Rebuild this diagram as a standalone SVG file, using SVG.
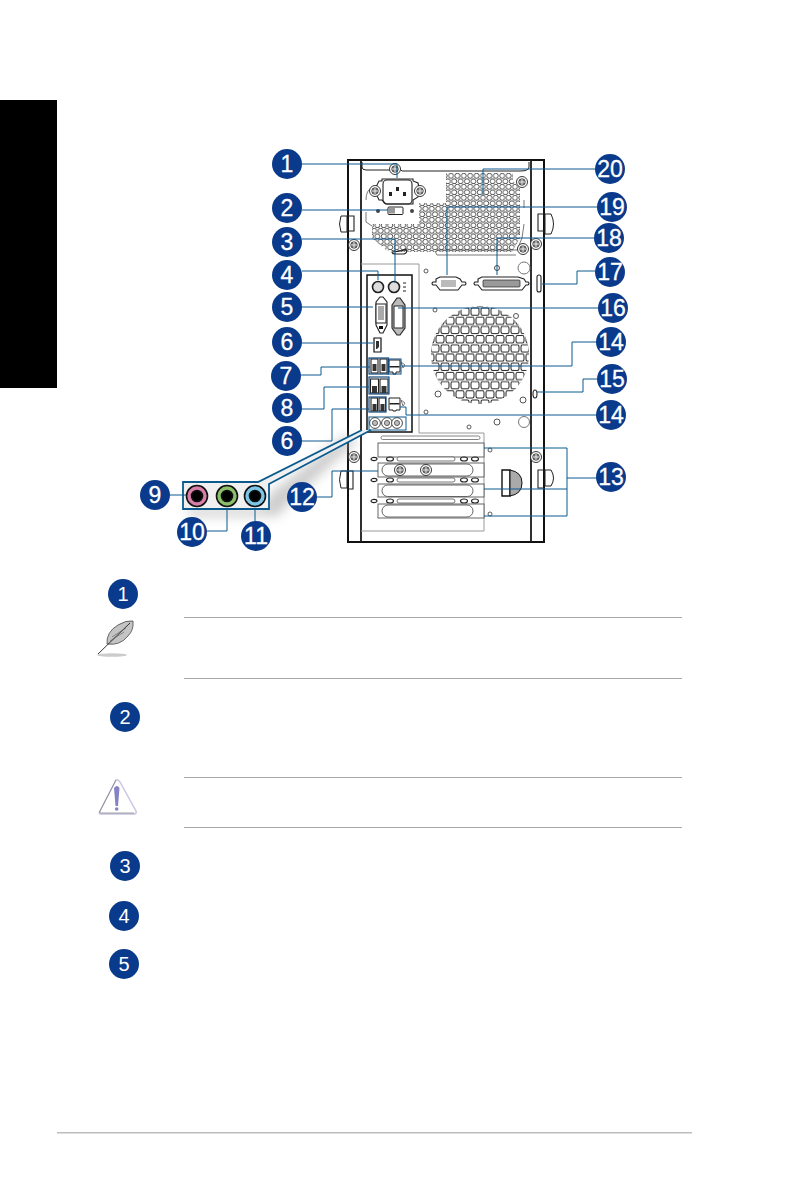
<svg xmlns="http://www.w3.org/2000/svg" width="794" height="1196" viewBox="0 0 794 1196">
<style>
.bg{fill:#0a3a8c}
.n{fill:#fff;stroke:#fff;stroke-width:.3;font-family:"Liberation Sans",Arial,sans-serif;font-size:23px;text-anchor:middle}
.m{fill:#fff;font-family:"Liberation Sans",Arial,sans-serif;font-size:20px;text-anchor:middle}
.c{fill:none;stroke:#0b5a8e;stroke-width:1}
.k{fill:none;stroke:#1a1a1a;stroke-width:1.8}
.g{fill:none;stroke:#6a6a6a;stroke-width:.9}
.p{fill:#fff;stroke:#222;stroke-width:1}
.t{fill:none;stroke:#222;stroke-width:1.1}
.r{stroke:#a8a8a8;stroke-width:1}
</style>
<defs>
<pattern id="vent" width="6.4" height="11" patternUnits="userSpaceOnUse" patternTransform="translate(371 173)">
<circle cx="3.2" cy="2.8" r="2.5" fill="#fff" stroke="#333" stroke-width=".85"/>
<circle cx="0" cy="8.3" r="2.5" fill="#fff" stroke="#333" stroke-width=".85"/>
<circle cx="6.4" cy="8.3" r="2.5" fill="#fff" stroke="#333" stroke-width=".85"/>
</pattern>
<pattern id="fan" width="20" height="18.4" patternUnits="userSpaceOnUse" patternTransform="translate(430 307)">
<rect x="1" y="1" width="8" height="7.200" rx="1.600" fill="#fff" stroke="#222" stroke-width="1"/>
<rect x="11" y="1" width="8" height="7.200" rx="1.600" fill="#fff" stroke="#222" stroke-width="1"/>
<rect x="-4" y="10.200" width="8" height="7.200" rx="1.600" fill="#fff" stroke="#222" stroke-width="1"/>
<rect x="6" y="10.200" width="8" height="7.200" rx="1.600" fill="#fff" stroke="#222" stroke-width="1"/>
<rect x="16" y="10.200" width="8" height="7.200" rx="1.600" fill="#fff" stroke="#222" stroke-width="1"/>
</pattern>
<clipPath id="ventclip"><path d="M446 173H513V181L520 188V238L512 252H398L386 250L372 238V224H419V203H446Z"/></clipPath>
<clipPath id="fanclip"><circle cx="480" cy="355" r="49"/></clipPath>
<filter id="blur" x="-30%" y="-30%" width="160%" height="160%"><feGaussianBlur stdDeviation="6"/></filter>
<g id="screw"><circle r="5.500" fill="#fff" stroke="#222" stroke-width=".9"/><circle r="3.300" fill="#777" stroke="#222" stroke-width=".6"/><path d="M-3 0H3M0-3V3" stroke="#fff" stroke-width=".8"/></g>
<g id="sm"><circle r="2" fill="#fff" stroke="#333" stroke-width=".8"/></g>
<g id="holes"><ellipse cx="374" cy="0" rx="3" ry="1.600" class="t"/><ellipse cx="390" cy="0" rx="3.500" ry="2" class="t"/><rect x="397" y="-2" width="58" height="4" rx="2" fill="#fff" stroke="#555" stroke-width=".8"/><ellipse cx="464" cy="0" rx="3.500" ry="2" class="t"/><ellipse cx="475" cy="0" rx="3.500" ry="2" class="t"/></g>
<g id="jack"><circle r="5.400" fill="#fff" stroke="#333" stroke-width=".9"/><circle r="2.600" fill="#bbb" stroke="#333" stroke-width=".7"/></g>
</defs>

<rect width="794" height="1196" fill="#fff"/>
<rect x="0" y="100" width="57" height="288" fill="#000"/>
<rect x="57" y="1132" width="635" height="1.500" fill="#bdbdbd"/>

<g id="chassis">
<path d="M348 160H544V542H348Z" fill="#fff" stroke="#111" stroke-width="2"/>
<path class="k" d="M361 160V542M531 160V542"/>
<path fill="none" stroke="#222" stroke-width="1" d="M362 162V167Q362 170 366 170H390L394 167H398L402 171H520Q529 171 529 167V162"/>
<path fill="#fff" d="M341 216H347V232H341Q338 224 341 216ZM551 214H545V234H551Q556 224 551 214ZM341 471H347V488H341Q338 480 341 471ZM551 470H545V486H551Q556 478 551 470Z" stroke="#222" stroke-width="1"/>
<path class="t" d="M347 216H354V231H347M544 214H538V231H544M347 471H353V489H347M544 470H538V488H544"/>
<path class="g" d="M372 188Q366 190 366 200M366 212V222L372 226M524 200V208M524 224L522 238L517 250H438L435 245M519 230V236"/>
<use href="#screw" x="354" y="245"/><use href="#screw" x="536" y="244"/><use href="#screw" x="354" y="457"/><use href="#screw" x="536" y="457"/>
<use href="#screw" x="522" y="182"/><use href="#screw" x="523" y="249"/>
</g>

<g id="vents"><rect x="366" y="170" width="158" height="85" fill="url(#vent)" clip-path="url(#ventclip)"/></g>
<path class="g" d="M435 251L437 255H516"/>
<path class="t" d="M392 252Q404 251 406 249Q408 253 404 254H396Q392 254 392 252Z"/>

<g id="psu">
<path class="t" d="M379 181H382V179H413V181L418 183Q420 190 418 197L413 200V204H386L382 200H379Q373 190 379 181Z" fill="#fff"/>
<rect x="383" y="180" width="29" height="24" rx="4" class="t"/>
<rect x="396" y="187" width="3" height="4" fill="#222"/><rect x="389" y="192" width="3" height="4" fill="#222"/><rect x="403" y="192" width="3" height="4" fill="#222"/>
<use href="#screw" x="375" y="191"/><use href="#screw" x="420" y="191"/><use href="#screw" x="395" y="169"/>
<rect x="388" y="207" width="15" height="7.500" rx="1" fill="#fff" stroke="#222"/><rect x="389" y="208" width="6" height="5.500" fill="#999"/>
<circle cx="378" cy="211" r="2" fill="#444"/><circle cx="412" cy="211" r="2" fill="#444"/>
</g>

<g id="back-plate">
<path d="M361 264H419V433H484V531H361" fill="none" stroke="#9a9a9a" stroke-width="1"/>
<rect x="367" y="275" width="45" height="157" fill="#fff" stroke="#111" stroke-width="1.500"/>
<use href="#sm" x="426" y="271"/><use href="#sm" x="435" y="310"/><use href="#sm" x="426" y="412"/><use href="#sm" x="469" y="427"/>
<circle cx="497" cy="268" r="2.500" fill="#fff" stroke="#444"/><circle cx="524" cy="268" r="6" fill="#fff" stroke="#777"/>
<circle cx="438" cy="394" r="3" fill="#fff" stroke="#555"/><circle cx="523" cy="400" r="3" fill="#fff" stroke="#555"/><circle cx="497" cy="422" r="3" fill="#fff" stroke="#555"/><circle cx="524" cy="422" r="5.500" fill="#fff" stroke="#777"/><circle cx="516" cy="316" r="2.500" fill="#fff" stroke="#555"/>
<rect x="537" y="275" width="4" height="17" rx="2" class="t"/>
<ellipse cx="535" cy="394" rx="2" ry="4" class="t"/>
</g>

<g id="fan-grille"><rect x="430" y="305" width="100" height="100" fill="url(#fan)" clip-path="url(#fanclip)"/></g>

<g id="ports">
<circle cx="378" cy="287" r="5.500" fill="#ddd" stroke="#222" stroke-width="1.600"/><circle cx="394" cy="287" r="5.500" fill="#ddd" stroke="#222" stroke-width="1.600"/>
<path class="t" d="M403 283H406M403 287H406M403 291H406"/>
<path d="M376 302L380 297H383L387 302V325L383 333H380L376 325Z" class="t"/><rect x="376" y="304" width="10" height="19" fill="#fff" stroke="#222"/><rect x="378" y="306" width="6" height="14" fill="#aaa"/><rect x="379" y="326" width="4" height="3" fill="#111"/>
<path d="M392 305L397 298H400L405 305V328L400 335H397L392 328Z" fill="#bbb" stroke="#222" stroke-width="1.100"/><rect x="394" y="306" width="9" height="22" fill="#fff" stroke="#222"/>
<path d="M374 338H381V352H374Z" fill="#fff" stroke="#111" stroke-width="1.200"/><path d="M376 341H379V347L377 349H376Z" fill="#333"/>
<rect x="369.500" y="358" width="19" height="16" fill="#fff"/><rect x="371" y="359" width="7" height="14" class="t"/><rect x="380" y="359" width="7" height="14" class="t"/>
<rect x="372.500" y="364" width="4" height="7" fill="#333"/><rect x="381.500" y="364" width="4" height="7" fill="#333"/>
<rect x="370.500" y="379" width="8" height="14" class="t"/><rect x="380" y="379" width="8" height="14" class="t"/>
<rect x="372" y="386" width="5" height="7" fill="#333"/><rect x="381.500" y="386" width="5" height="7" fill="#333"/>
<rect x="371" y="398" width="6.500" height="13" class="t"/><rect x="379" y="398" width="6.500" height="13" class="t"/>
<rect x="372.500" y="404" width="4" height="7" fill="#333"/><rect x="380.500" y="404" width="4" height="7" fill="#333"/>
<path d="M389 360H400V372H396V374H393V372H389Z" class="p" stroke-width="1.400"/><rect x="389.500" y="366" width="10" height="1.500" fill="#222"/>
<path d="M389 398H400V410H396V411H393V410H389Z" class="p" stroke-width="1.400"/><rect x="389.500" y="403" width="10" height="1.500" fill="#222"/>
<path class="g" d="M401 362L405 365L403 368ZM401 400L405 403L403 406Z"/>
<rect x="369" y="417" width="37" height="13" fill="#fff" stroke="#0b5a8e" stroke-width="1"/>
<use href="#jack" x="375" y="423"/><use href="#jack" x="387" y="423"/><use href="#jack" x="397" y="423"/>
<path class="t" d="M436 279L440 277H456L460 279L462 282H465Q467 283.500 465 285H462L458 290H440L436 285H433Q431 283.500 433 282H436Z" fill="#fff"/>
<rect x="441" y="280" width="15" height="7" fill="#bbb"/>
<path class="t" d="M478 279L482 277H518L524 279L526 282H528Q530 283.500 528 285H526L522 290H482L478 285H475Q473 283.500 475 282H478Z" fill="#fff"/>
<rect x="483" y="280" width="37" height="7" rx="1" fill="#9a9a9a" stroke="#222" stroke-width=".7"/>
</g>

<g id="slots">
<rect x="381" y="436" width="99" height="3.500" rx="1.700" fill="#fff" stroke="#777" stroke-width=".9"/>
<rect x="378" y="443" width="106" height="14" fill="#fff" stroke="#555" stroke-width=".9"/>
<use href="#holes" y="459"/>
<rect x="378" y="463" width="106" height="14" fill="#fff" stroke="#555" stroke-width=".9"/>
<rect x="382" y="464" width="91" height="12" rx="6" fill="#fff" stroke="#555" stroke-width=".9"/>
<use href="#screw" x="400" y="470"/><use href="#screw" x="426" y="470"/>
<use href="#holes" y="480"/>
<rect x="378" y="484" width="106" height="13" fill="#fff" stroke="#555" stroke-width=".9"/>
<rect x="382" y="485" width="91" height="11.500" rx="5.700" fill="#fff" stroke="#555" stroke-width=".9"/>
<use href="#holes" y="501"/>
<rect x="378" y="504" width="106" height="14" fill="#fff" stroke="#555" stroke-width=".9"/>
<rect x="382" y="505" width="91" height="12" rx="6" fill="#fff" stroke="#555" stroke-width=".9"/>
<path d="M502 470H510V496H502Z" fill="#fff" stroke="#111" stroke-width="1.400"/>
<path d="M510 470Q522 472 522 483Q522 494 510 496Z" fill="#aaa" stroke="#111" stroke-width="1"/>
<use href="#sm" x="490" y="450"/><use href="#sm" x="490" y="514"/>
</g>

<g id="audio-panel">
<path d="M272 492L345 436L358 440L288 504L278 516H190L186 508H262Z" fill="#aaa" opacity=".6" filter="url(#blur)"/>
<path d="M183 482H258L362 430H371L268 484V509H183Z" fill="#f0f0f0"/>
<path d="M362 430L258 482H183V509H269V484L371 430" fill="none" stroke="#0b5a8e" stroke-width="1.800"/>
<g stroke="#111" stroke-width="1.600">
<circle cx="197" cy="496" r="10.500" fill="#d77fa8"/><circle cx="197" cy="496" r="5.500" fill="#000"/>
<circle cx="227" cy="496" r="10.500" fill="#8cbf6a"/><circle cx="227" cy="496" r="5.500" fill="#000"/>
<circle cx="255" cy="496" r="10.500" fill="#7cc7e8"/><circle cx="255" cy="496" r="5.500" fill="#000"/>
</g>
</g>

<g id="connectors">
<path class="c" d="M302 164H397V178"/>
<path class="c" d="M302 210H388"/>
<path class="c" d="M302 239H395V283"/>
<path class="c" d="M302 271H378V280"/>
<path class="c" d="M302 307H373"/>
<path class="c" d="M302 343H373"/>
<path class="c" d="M301 375H321V367H370"/>
<path class="c" d="M301 409H324V387H369"/>
<path class="c" d="M301 441H332V409H369"/>
<path class="c" d="M317 497H332V471H378"/>
<path class="c" d="M595 169H483V195"/>
<path class="c" d="M597 207H447V275"/>
<path class="c" d="M594 238H497V275"/>
<path class="c" d="M595 271H577V284H542"/>
<path class="c" d="M598 308H398"/>
<path class="c" d="M597 342H572V366H402"/>
<path class="c" d="M597 379H583V392H537"/>
<path class="c" d="M597 415H406V407H400"/>
<path class="c" d="M597 478H567M484 448H567V516H484M484 489H567"/>
<path class="c" d="M169 495H186"/>
<path class="c" d="M207 531H227V508"/>
<path class="c" d="M255 521V508"/>
<rect x="369" y="358" width="19.500" height="16" fill="none" stroke="#0f4a80" stroke-width="1.200"/>
<rect x="369" y="377" width="20" height="17" fill="none" stroke="#0f4a80" stroke-width="1.200"/>
<rect x="369" y="397" width="17" height="15" fill="none" stroke="#0f4a80" stroke-width="1.200"/>
<rect x="388" y="359" width="13" height="15" fill="none" stroke="#0f4a80" stroke-width="1"/>
</g>

<g id="badge-1"><circle class="bg" cx="287" cy="164" r="15"/><text class="n" x="287" y="172">1</text></g>
<g id="badge-2"><circle class="bg" cx="287" cy="208" r="15"/><text class="n" x="287" y="216">2</text></g>
<g id="badge-3"><circle class="bg" cx="287" cy="242" r="15"/><text class="n" x="287" y="250">3</text></g>
<g id="badge-4"><circle class="bg" cx="287" cy="275" r="15"/><text class="n" x="287" y="283">4</text></g>
<g id="badge-5"><circle class="bg" cx="287" cy="307" r="15"/><text class="n" x="287" y="315">5</text></g>
<g id="badge-6a"><circle class="bg" cx="287" cy="342" r="15"/><text class="n" x="287" y="350">6</text></g>
<g id="badge-7"><circle class="bg" cx="286" cy="376" r="15"/><text class="n" x="286" y="384">7</text></g>
<g id="badge-8"><circle class="bg" cx="287" cy="408" r="15"/><text class="n" x="287" y="416">8</text></g>
<g id="badge-6b"><circle class="bg" cx="287" cy="441" r="15"/><text class="n" x="287" y="449">6</text></g>
<g id="badge-9"><circle class="bg" cx="155" cy="495" r="15"/><text class="n" x="155" y="503">9</text></g>
<g id="badge-10"><circle class="bg" cx="192" cy="532" r="15"/><text class="n" x="192" y="540">10</text></g>
<g id="badge-11"><circle class="bg" cx="256" cy="536" r="15"/><text class="n" x="256" y="544">11</text></g>
<g id="badge-12"><circle class="bg" cx="302" cy="497" r="15"/><text class="n" x="302" y="505">12</text></g>
<g id="badge-13"><circle class="bg" cx="611" cy="477" r="15"/><text class="n" x="611" y="485">13</text></g>
<g id="badge-14b"><circle class="bg" cx="611" cy="415" r="15"/><text class="n" x="611" y="423">14</text></g>
<g id="badge-15"><circle class="bg" cx="612" cy="379" r="15"/><text class="n" x="612" y="387">15</text></g>
<g id="badge-14a"><circle class="bg" cx="611" cy="342" r="15"/><text class="n" x="611" y="350">14</text></g>
<g id="badge-16"><circle class="bg" cx="613" cy="308" r="15"/><text class="n" x="613" y="316">16</text></g>
<g id="badge-17"><circle class="bg" cx="610" cy="272" r="15"/><text class="n" x="610" y="280">17</text></g>
<g id="badge-18"><circle class="bg" cx="609" cy="238" r="15"/><text class="n" x="609" y="246">18</text></g>
<g id="badge-19"><circle class="bg" cx="612" cy="207" r="15"/><text class="n" x="612" y="215">19</text></g>
<g id="badge-20"><circle class="bg" cx="610" cy="169" r="15"/><text class="n" x="610" y="177">20</text></g>

<g id="legend-1"><circle class="bg" cx="123" cy="594" r="15"/><text class="m" x="123" y="601">1</text></g>
<g id="legend-2"><circle class="bg" cx="125" cy="717" r="15"/><text class="m" x="125" y="724">2</text></g>
<g id="legend-3"><circle class="bg" cx="125" cy="866" r="15"/><text class="m" x="125" y="873">3</text></g>
<g id="legend-4"><circle class="bg" cx="124" cy="916" r="15"/><text class="m" x="124" y="923">4</text></g>
<g id="legend-5"><circle class="bg" cx="124" cy="964" r="15"/><text class="m" x="124" y="971">5</text></g>

<g id="rules">
<path class="r" d="M184 617.500H682M184 678.500H682M184 777.500H682M184 827.500H682"/>
</g>

<g id="feather">
<ellipse cx="112" cy="655" rx="15" ry="1.800" fill="#ccc"/>
<path d="M107 644Q106 632 118 625Q126 620 133 621Q134 630 128 636Q120 646 107 644Z" fill="#c4c4c4" stroke="#333" stroke-width=".7"/>
<path d="M98 654L130 623" stroke="#222" stroke-width=".9" fill="none"/>
<path d="M112 637L126 628M110 641L124 632" stroke="#555" stroke-width=".6" fill="none"/>
</g>
<g id="caution">
<path d="M116 780Q118 779 120 782L136 811Q137 814 134 814H101Q98 814 100 811Z" fill="#fff" stroke="#c5c3e2" stroke-width="1.400"/>
<path d="M116 780L100 811Q99 813 101 813H134" fill="none" stroke="#666" stroke-width=".6"/>
<path d="M114 788Q117 784 119.500 788L118 806H115.500Z" fill="#8582c4"/>
<circle cx="116.700" cy="809" r="1.800" fill="#8582c4"/>
</g>
</svg>
